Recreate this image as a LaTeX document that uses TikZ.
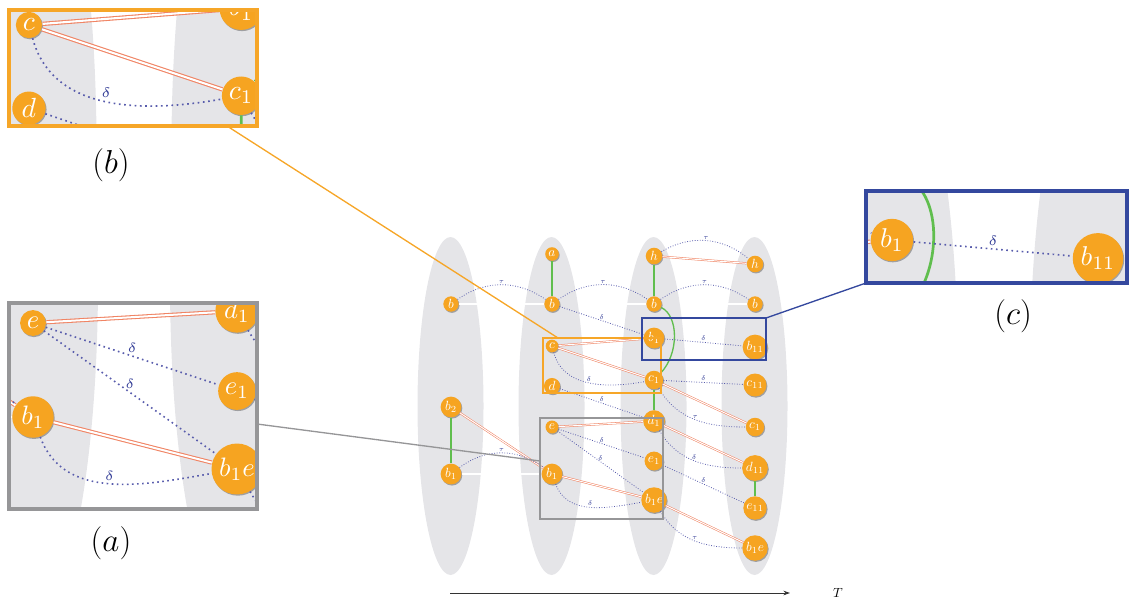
\documentclass[tikz,border=0pt]{standalone}
\usepackage{tikz}
\usetikzlibrary{shadows,arrows.meta}
\definecolor{vtxorange}{RGB}{246,164,33}
\definecolor{setgray}{RGB}{229,229,232}
\definecolor{stepblue}{RGB}{88,92,172}
\definecolor{lblblue}{RGB}{50,60,150}
\definecolor{tiered}{RGB}{240,132,100}
\definecolor{linkgreen}{RGB}{96,190,78}
\definecolor{zoomorange}{RGB}{246,166,40}
\definecolor{zoomgray}{RGB}{150,150,152}
\definecolor{zoomblue}{RGB}{52,72,158}

\tikzset{
	vtx/.style={circle, fill=vtxorange, text=white, inner sep=1.2pt, font=\normalsize,
		drop shadow={shadow xshift=0.7pt, shadow yshift=-0.9pt, fill=black, opacity=0.3}},
	trans/.style={stepblue, line width=\sclw pt, dash pattern=on \sclw pt off \scdot pt},
	tie/.style={draw=tiered, line width=\sctw pt, double=white, double distance=\sctd pt},
	link/.style={linkgreen, line width=\scgw pt},
	gap/.style={white, line width=\scww pt},
	lbl/.style={font=\tiny, text=lblblue, above, inner sep=0.8pt},
	zoombox/.style={line width=0.8pt},
	sublbl/.style={font=\Huge},
	timeaxis/.style={-{Stealth[length=5pt,width=3.5pt]}, line width=0.7pt, black!80}
}

\newcommand{\drawscene}[1]{%
	\pgfmathsetmacro{\sclw}{0.6*#1}
	\pgfmathsetmacro{\scdot}{1.3*#1}
	\pgfmathsetmacro{\sctw}{0.4*#1}
	\pgfmathsetmacro{\sctd}{0.75*#1}
	\pgfmathsetmacro{\scgw}{1.0*#1}
	\pgfmathsetmacro{\scww}{1.1*#1}
	\foreach \cx in {450.5,551.5,653.5,754.5}
		\fill[setgray] (\cx,195) ellipse [x radius=33, y radius=169];
	\node[vtx] (bA) at (451,297) {$b$};
	\node[vtx] (b2A) at (451,194) {$b_2$};
	\node[vtx] (b1A) at (451,127) {$b_1$};
	\node[vtx] (aB) at (552,347) {$a$};
	\node[vtx] (bB) at (552,297) {$b$};
	\node[vtx] (cB) at (552,255) {$c$};
	\node[vtx] (dB) at (552,215) {$d$};
	\node[vtx] (eB) at (552,174) {$e$};
	\node[vtx] (b1B) at (552,127) {$b_1$};
	\node[vtx] (hC) at (654,345) {$h$};
	\node[vtx] (bC) at (654,297) {$b$};
	\node[vtx] (b1C) at (654,263) {$b_1$};
	\node[vtx] (c1C) at (654,221) {$c_1$};
	\node[vtx] (d1C) at (654,180) {$d_1$};
	\node[vtx] (e1C) at (654,140) {$e_1$};
	\node[vtx] (b1eC) at (654,101) {$b_1e$};
	\node[vtx] (hD) at (755,337) {$h$};
	\node[vtx] (bD) at (755,297) {$b$};
	\node[vtx] (b11D) at (755,254) {$b_{11}$};
	\node[vtx] (c11D) at (755,216) {$c_{11}$};
	\node[vtx] (c1D) at (755,174) {$c_1$};
	\node[vtx] (d11D) at (755,133) {$d_{11}$};
	\node[vtx] (e11D) at (755,93) {$e_{11}$};
	\node[vtx] (b1eD) at (755,53) {$b_1e$};
	\draw[gap] (bA) -- (bB);
	\draw[gap] (bC) -- ++(-28,0);
	\draw[gap] (bD) -- ++(-27,0);
	\draw[gap] (b1A) -- (b1B);
	\draw[link] (aB) -- (bB);
	\draw[link] (b2A) -- (b1A);
	\draw[link] (hC) -- (bC);
	\draw[link] (bC) .. controls +(25,-12) and +(25,26) .. (c1C);
	\draw[link] (c1C) -- (d1C);
	\draw[link] (d11D) -- (e11D);
	\draw[tie] (hC) -- (hD);
	\draw[tie] (cB) -- (b1C);
	\draw[tie] (cB) -- (c1C);
	\draw[tie] (c1C) -- (c1D);
	\draw[tie] (d1C) -- (d11D);
	\draw[tie] (eB) -- (d1C);
	\draw[tie] (b1B) -- (b1eC);
	\draw[tie] (b1eC) -- (b1eD);
	\draw[tie] (b2A) -- (b1B);
	\draw[trans] (bA) to[bend left=35] node[lbl] {$\tau$} (bB);
	\draw[trans] (bB) to[bend left=35] node[lbl] {$\tau$} (bC);
	\draw[trans] (bC) to[bend left=35] node[lbl] {$\tau$} (bD);
	\draw[trans] (hC) to[bend left=35] node[lbl] {$\tau$} (hD);
	\draw[trans] (b1A) to[bend left=37] node[lbl] {$\tau$} (b1B);
	\draw[trans] (bB) -- node[lbl] {$\delta$} (b1C);
	\draw[trans] (cB) to[out=-75, in=190] node[lbl] {$\delta$} (c1C);
	\draw[trans] (dB) -- node[lbl] {$\delta$} (d1C);
	\draw[trans] (eB) -- node[lbl] {$\delta$} (e1C);
	\draw[trans] (eB) -- node[lbl] {$\delta$} (b1eC);
	\draw[trans] (b1B) to[out=-70, in=190] node[lbl] {$\delta$} (b1eC);
	\draw[trans] (b1C) -- node[lbl] {$\delta$} (b11D);
	\draw[trans] (c1C) -- node[lbl] {$\delta$} (c11D);
	\draw[trans] (c1C) to[out=-60, in=180] node[lbl] {$\tau$} (c1D);
	\draw[trans] (d1C) to[out=-60, in=180] node[lbl] {$\delta$} (d11D);
	\draw[trans] (e1C) -- node[lbl] {$\delta$} (e11D);
	\draw[trans] (b1eC) to[out=-60, in=180] node[lbl] {$\tau$} (b1eD);
}

\begin{document}
\begin{tikzpicture}[x=0.75pt,y=0.75pt]
	\useasboundingbox (0,0) rectangle (1130,601);
	\drawscene{1}
	\coordinate (tstart) at (450,8);
	\coordinate (tend) at (790,8);
	\draw[timeaxis] (tstart) -- (tend);
	\node (tlbl) at (838,8) {$T$};
	\draw[zoombox, zoomorange] (543,208) rectangle (661,263);
	\draw[zoombox, zoomgray] (540,82) rectangle (663,183);
	\draw[zoombox, zoomblue] (642,241) rectangle (766,283);
	\begin{scope}
		\clip (9,475) rectangle (257,591);
		\begin{scope}[shift={(-1119.2,45.6)}, scale=2.08, transform shape]
			\drawscene{2.08}
		\end{scope}
	\end{scope}
	\draw[zoomorange, line width=2.4pt] (9,475) rectangle (257,591);
	\begin{scope}
		\clip (9,92) rectangle (257,298);
		\begin{scope}[shift={(-1071,-70)}, scale=2, transform shape]
			\drawscene{2}
		\end{scope}
	\end{scope}
	\draw[zoomgray, line width=3pt] (9,92) rectangle (257,298);
	\begin{scope}
		\clip (866,318) rectangle (1127,410);
		\begin{scope}[shift={(-442.2,-175.5)}, scale=2.04, transform shape]
			\drawscene{2.04}
		\end{scope}
	\end{scope}
	\draw[zoomblue, line width=3pt] (866,318) rectangle (1127,410);
	\coordinate (zbI) at (227,475);
	\coordinate (zbM) at (558,263);
	\draw[zoomorange, line width=1pt] (zbI) -- (zbM);
	\coordinate (zaI) at (257,177);
	\coordinate (zaM) at (540,140);
	\draw[zoomgray, line width=1pt] (zaI) -- (zaM);
	\coordinate (zcM) at (766,283);
	\coordinate (zcI) at (866,318);
	\draw[zoomblue, line width=1pt] (zcM) -- (zcI);
	\node[sublbl] (lblb) at (111,436) {$(b)$};
	\node[sublbl] (lbla) at (111,58) {$(a)$};
	\node[sublbl] (lblc) at (1013,285) {$(c)$};
\end{tikzpicture}
\end{document}
